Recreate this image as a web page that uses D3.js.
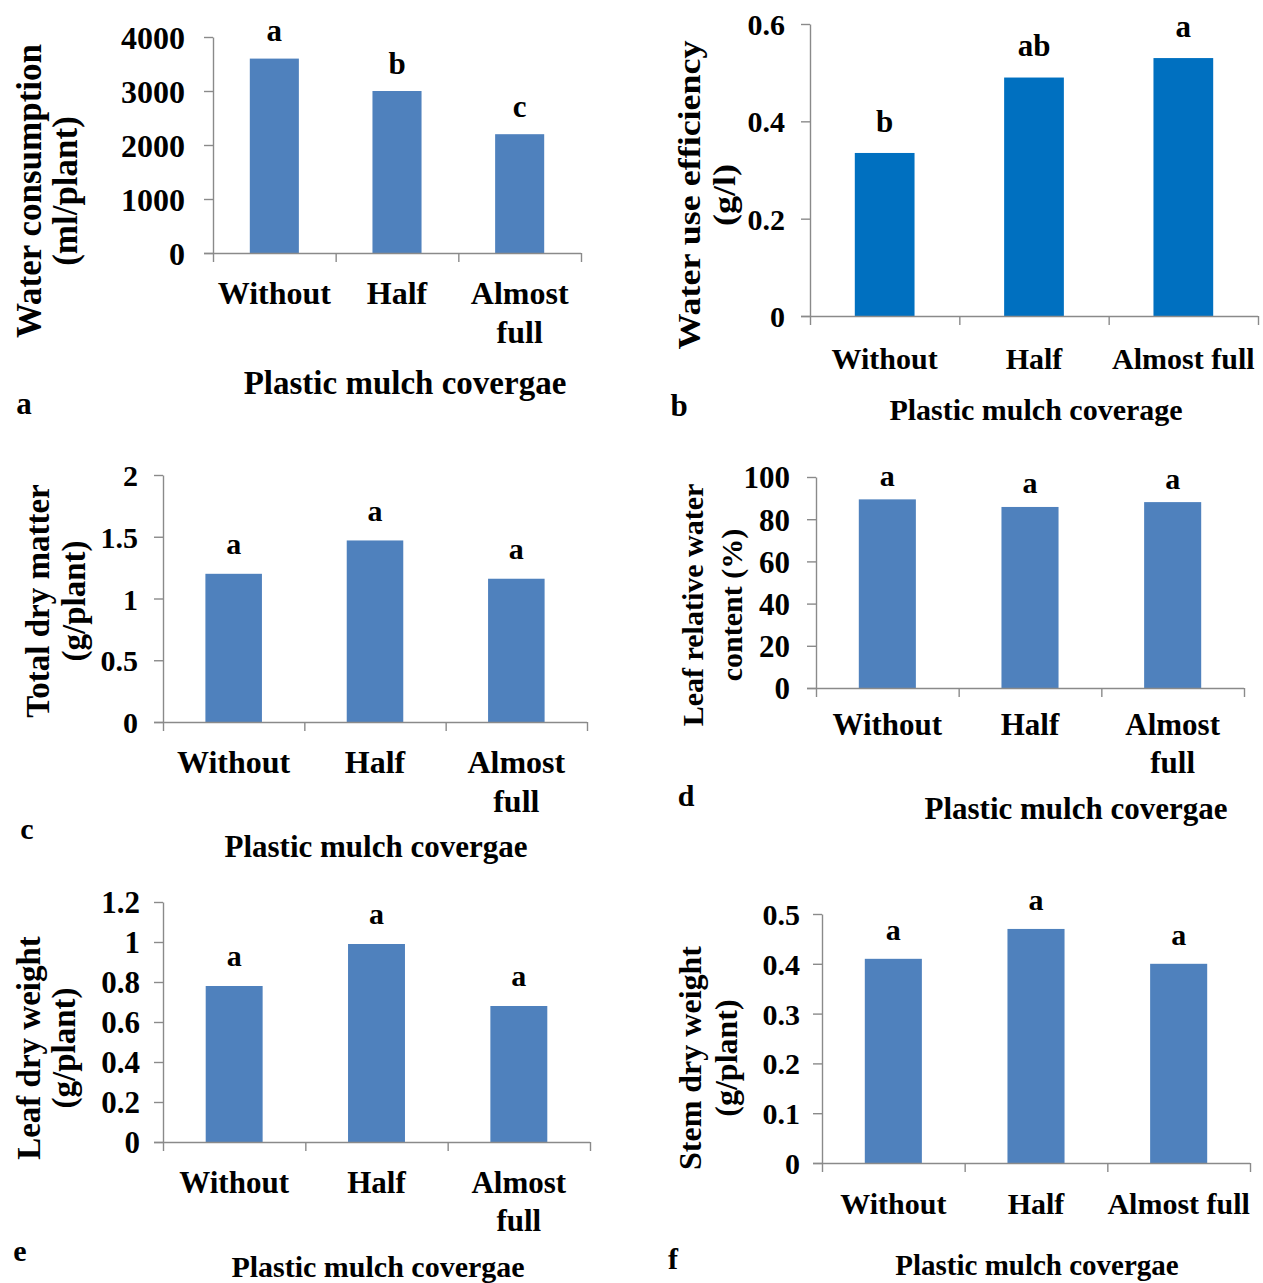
<!DOCTYPE html>
<html>
<head>
<meta charset="utf-8">
<script src="https://cdn.jsdelivr.net/npm/d3@7"></script>
<style>
  html, body { margin: 0; padding: 0; background: #fff; }
  svg text { font-family: "Liberation Serif", "Times New Roman", serif; font-weight: bold; fill: #000; }
  .axis path, .axis line { stroke: #8a8a8a; stroke-width: 1.4; }
</style>
</head>
<body>
<svg id="chart" width="1263" height="1283"></svg>
<script>
// categories shared by every panel
const categories = ['Without', 'Half', 'Almost full'];

// series values
const waterConsumption = [3600, 3000, 2200];
const waterUseEfficiency = [0.335, 0.49, 0.53];
const totalDryMatter = [1.2, 1.47, 1.16];
const leafRelativeWater = [89.4, 85.8, 88.1];
const leafDryWeight = [0.78, 0.99, 0.68];
const stemDryWeight = [0.41, 0.47, 0.40];

// significance letters above the bars
const lettersA = ['a', 'b', 'c'];
const lettersB = ['b', 'ab', 'a'];
const lettersC = ['a', 'a', 'a'];
const lettersD = ['a', 'a', 'a'];
const lettersE = ['a', 'a', 'a'];
const lettersF = ['a', 'a', 'a'];

// y tick values
const ticksA = [0, 1000, 2000, 3000, 4000];
const ticksB = [0, 0.2, 0.4, 0.6];
const ticksC = [0, 0.5, 1, 1.5, 2];
const ticksD = [0, 20, 40, 60, 80, 100];
const ticksE = [0, 0.2, 0.4, 0.6, 0.8, 1, 1.2];
const ticksF = [0, 0.1, 0.2, 0.3, 0.4, 0.5];

const svg = d3.select('#chart');

// the source panels were pasted at slightly different scales, so sizes vary per panel
const panels = [
    { tag: 'a', values: waterConsumption, letters: lettersA, ticks: ticksA, color: '#4f81bd',
      box: { left: 213, right: 581, top: 37, bottom: 253 }, tickGap: 28,
      fs: { tick: 32, cat: 32, title: 33, yTitle: 35, letter: 31 }, yTitleSquash: 1,
      yTitle: ['Water consumption', '(ml/plant)'], yTitleX: [29, 65], yTitleY: 191,
      wrap: true, catY: 293, xTitle: 'Plastic mulch covergae', xTitleX: 405, xTitleY: 382,
      tagX: 24, tagY: 403, letterGap: 28 },
    { tag: 'b', values: waterUseEfficiency, letters: lettersB, ticks: ticksB, color: '#0070c0',
      box: { left: 810, right: 1258, top: 24, bottom: 316 }, tickGap: 25,
      fs: { tick: 30, cat: 30, title: 30, yTitle: 36, letter: 31 }, yTitleSquash: 0.85,
      yTitle: ['Water use efficiency', '(g/l)'], yTitleX: [689, 724], yTitleY: 195,
      wrap: false, catY: 358, xTitle: 'Plastic mulch coverage', xTitleX: 1036, xTitleY: 409,
      tagX: 679, tagY: 405, letterGap: 32 },
    { tag: 'c', values: totalDryMatter, letters: lettersC, ticks: ticksC, color: '#4f81bd',
      box: { left: 163, right: 587, top: 475, bottom: 722 }, tickGap: 25,
      fs: { tick: 30, cat: 32, title: 31, yTitle: 33, letter: 30 }, yTitleSquash: 1,
      yTitle: ['Total dry matter', '(g/plant)'], yTitleX: [37, 73], yTitleY: 601,
      wrap: true, catY: 762, xTitle: 'Plastic mulch covergae', xTitleX: 376, xTitleY: 846,
      tagX: 27, tagY: 828, letterGap: 30 },
    { tag: 'd', values: leafRelativeWater, letters: lettersD, ticks: ticksD, color: '#4f81bd',
      box: { left: 816, right: 1244, top: 477, bottom: 688 }, tickGap: 26,
      fs: { tick: 31, cat: 31, title: 31, yTitle: 30, letter: 30 }, yTitleSquash: 1,
      yTitle: ['Leaf relative water', 'content (%)'], yTitleX: [692, 731], yTitleY: 605,
      wrap: true, catY: 724, xTitle: 'Plastic mulch covergae', xTitleX: 1076, xTitleY: 808,
      tagX: 686, tagY: 795, letterGap: 24 },
    { tag: 'e', values: leafDryWeight, letters: lettersE, ticks: ticksE, color: '#4f81bd',
      box: { left: 163, right: 590, top: 902, bottom: 1142 }, tickGap: 23,
      fs: { tick: 31, cat: 31, title: 30, yTitle: 33, letter: 30 }, yTitleSquash: 1,
      yTitle: ['Leaf dry weight', '(g/plant)'], yTitleX: [28, 63], yTitleY: 1048,
      wrap: true, catY: 1182, xTitle: 'Plastic mulch covergae', xTitleX: 378, xTitleY: 1266,
      tagX: 20, tagY: 1250, letterGap: 31 },
    { tag: 'f', values: stemDryWeight, letters: lettersF, ticks: ticksF, color: '#4f81bd',
      box: { left: 822, right: 1250, top: 914, bottom: 1163 }, tickGap: 22,
      fs: { tick: 30, cat: 30, title: 29, yTitle: 32, letter: 30 }, yTitleSquash: 1,
      yTitle: ['Stem dry weight', '(g/plant)'], yTitleX: [690, 726], yTitleY: 1058,
      wrap: false, catY: 1203, xTitle: 'Plastic mulch covergae', xTitleX: 1037, xTitleY: 1265,
      tagX: 673, tagY: 1258, letterGap: 29 },
];

panels.forEach(drawPanel);

function drawPanel(p) {
    const { left, right, top, bottom } = p.box;
    const g = svg.append('g').attr('class', `panel panel-${p.tag}`);

    const x = d3.scaleBand().domain(categories).range([left, right]).padding(0.6).paddingOuter(0.3);
    const xEdge = d3.scaleLinear().domain([0, categories.length]).range([left, right]);
    const y = d3.scaleLinear().domain([0, d3.max(p.ticks)]).range([bottom, top]);
    const mid = (d) => x(d) + x.bandwidth() / 2;

    // bars
    g.selectAll('rect.bar')
        .data(p.values)
        .join('rect')
        .attr('class', 'bar')
        .attr('x', (d, i) => x(categories[i]))
        .attr('width', x.bandwidth())
        .attr('y', (d) => y(d))
        .attr('height', (d) => y(0) - y(d))
        .attr('fill', p.color);

    // y axis
    const yAxis = g.append('g')
        .attr('class', 'axis y-axis')
        .attr('transform', `translate(${left},0)`)
        .call(d3.axisLeft(y).tickValues(p.ticks).tickSize(9).tickSizeOuter(0).tickFormat(String));
    yAxis.selectAll('text')
        .attr('x', -p.tickGap)
        .attr('dy', '0.35em')
        .style('font-size', `${p.fs.tick}px`);

    // x axis: ticks sit on the category boundaries
    const xAxis = g.append('g')
        .attr('class', 'axis x-axis')
        .attr('transform', `translate(0,${bottom})`)
        .call(d3.axisBottom(xEdge).tickValues(d3.range(categories.length + 1)).tickSize(9).tickSizeOuter(0).tickFormat(''));
    xAxis.select('.domain').attr('d', `M${left - 9},0.5H${right}`);

    // category labels
    g.selectAll('text.cat')
        .data(categories)
        .join('text')
        .attr('class', 'cat')
        .attr('text-anchor', 'middle')
        .attr('y', p.catY)
        .style('font-size', `${p.fs.cat}px`)
        .each(function (d) {
            const words = p.wrap && d === 'Almost full' ? ['Almost', 'full'] : [d];
            const t = d3.select(this);
            words.forEach((w, k) => {
                t.append('tspan')
                    .attr('x', mid(d))
                    .attr('dy', k === 0 ? '0.35em' : '1.22em')
                    .text(w);
            });
        });

    // significance letters
    g.selectAll('text.sig')
        .data(p.values)
        .join('text')
        .attr('class', 'sig')
        .attr('text-anchor', 'middle')
        .attr('x', (d, i) => mid(categories[i]))
        .attr('y', (d) => y(d) - p.letterGap)
        .attr('dy', '0.35em')
        .style('font-size', `${p.fs.letter}px`)
        .text((d, i) => p.letters[i]);

    // y axis title, two lines
    p.yTitle.forEach((line, k) => {
        g.append('text')
            .attr('transform', `translate(${p.yTitleX[k]},${p.yTitleY}) rotate(-90) scale(1,${p.yTitleSquash})`)
            .attr('text-anchor', 'middle')
            .attr('dy', '0.35em')
            .style('font-size', `${p.fs.yTitle}px`)
            .text(line);
    });

    // x axis title
    g.append('text')
        .attr('x', p.xTitleX)
        .attr('y', p.xTitleY)
        .attr('text-anchor', 'middle')
        .attr('dy', '0.35em')
        .style('font-size', `${p.fs.title}px`)
        .text(p.xTitle);

    // panel tag
    g.append('text')
        .attr('x', p.tagX)
        .attr('y', p.tagY)
        .attr('text-anchor', 'middle')
        .attr('dy', '0.35em')
        .style('font-size', `${p.fs.letter}px`)
        .text(p.tag);
}
</script>
</body>
</html>
